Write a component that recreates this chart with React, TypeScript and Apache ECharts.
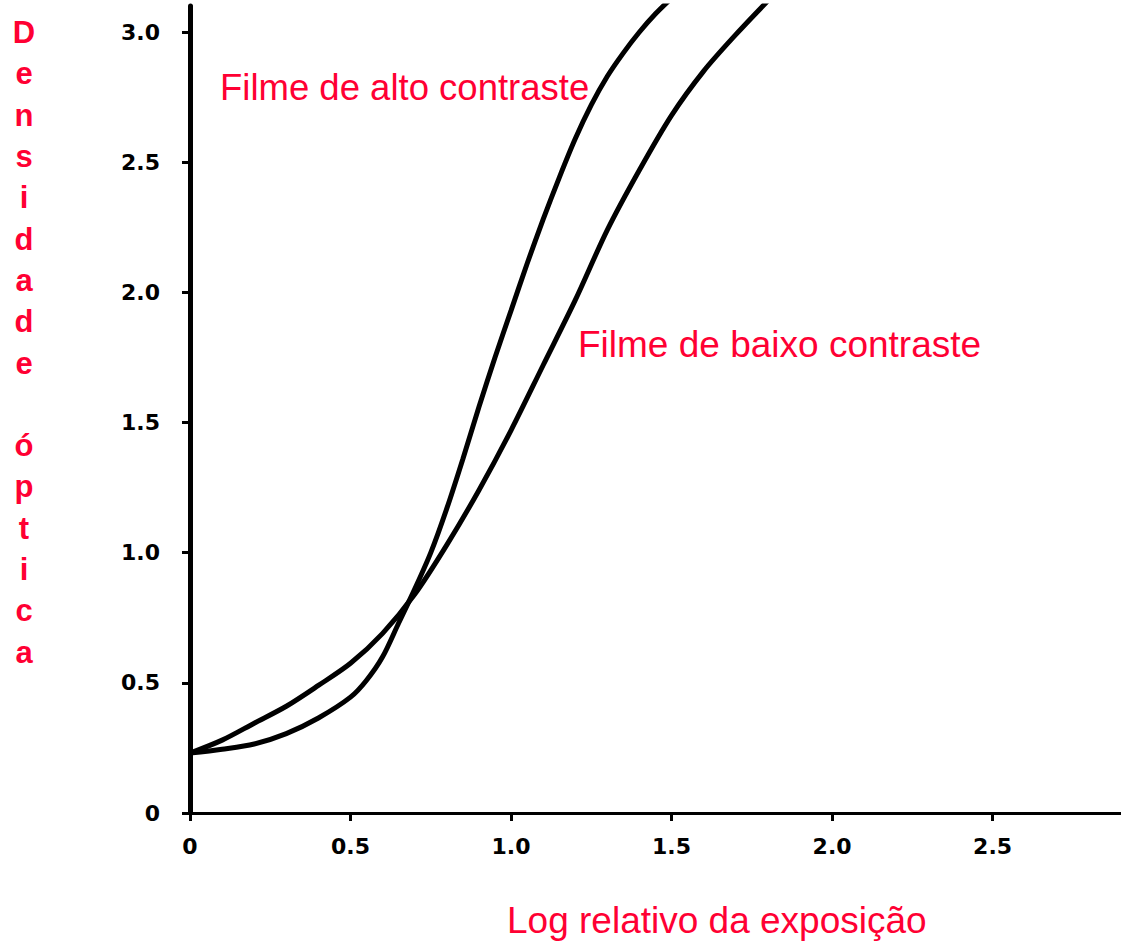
import React, { useEffect, useRef } from "react";
import * as echarts from "echarts";

const xTicks = [0, 0.5, 1.0, 1.5, 2.0, 2.5];
const yTicks = [0, 0.5, 1.0, 1.5, 2.0, 2.5, 3.0];

const highContrastX = [0, 0.1, 0.2, 0.3, 0.4, 0.5, 0.55, 0.6, 0.65, 0.7, 0.75, 0.8, 0.85, 0.9, 0.95, 1.0, 1.05, 1.1, 1.15, 1.2, 1.25, 1.3, 1.35, 1.4, 1.45, 1.5];
const highContrastY = [0.23, 0.245, 0.265, 0.305, 0.365, 0.445, 0.51, 0.6, 0.73, 0.86, 1.0, 1.17, 1.36, 1.56, 1.75, 1.93, 2.11, 2.28, 2.44, 2.59, 2.72, 2.83, 2.92, 3.0, 3.07, 3.13];

const lowContrastX = [0, 0.1, 0.2, 0.3, 0.4, 0.5, 0.6, 0.7, 0.8, 0.9, 1.0, 1.1, 1.2, 1.3, 1.4, 1.5, 1.6, 1.7, 1.8];
const lowContrastY = [0.23, 0.28, 0.345, 0.41, 0.49, 0.575, 0.69, 0.84, 1.03, 1.24, 1.47, 1.72, 1.97, 2.24, 2.47, 2.68, 2.85, 2.99, 3.12];

const labelHigh = "Filme de alto contraste";
const labelLow = "Filme de baixo contraste";
const xTitle = "Log relativo da exposição";
const yTitle = "Densidade óptica";

const RED = "#ff0033";
const tickFmt = (v: number) => (v === 0 ? "0" : v.toFixed(1));

export default function App() {
  const ref = useRef<HTMLDivElement>(null);
  useEffect(() => {
    if (!ref.current) return;
    const chart = echarts.init(ref.current, undefined, { renderer: "svg" });
    const stacked = yTitle.split("").join("\n");
    const lineSeries = (name: string, xs: number[], ys: number[]) => ({
      name,
      type: "line",
      data: xs.map((x, i) => [x, ys[i]]),
      smooth: 0.3,
      showSymbol: false,
      clip: true,
      lineStyle: { color: "#000", width: 5 },
    });
    chart.setOption({
      animation: false,
      backgroundColor: "#ffffff",
      grid: { left: 190, right: 0, top: 6, bottom: 130, containLabel: false },
      xAxis: {
        type: "value",
        min: 0,
        max: 2.9,
        splitLine: { show: false },
        axisLine: { show: true, lineStyle: { color: "#000", width: 3 } },
        axisTick: { show: true, length: 8, lineStyle: { color: "#000", width: 3 }, customValues: xTicks },
        axisLabel: {
          customValues: xTicks,
          formatter: tickFmt,
          color: "#000",
          fontFamily: "DejaVu Sans",
          fontWeight: "bold",
          fontSize: 22,
          margin: 22,
        },
      },
      yAxis: {
        type: "value",
        min: 0,
        max: 3.1,
        splitLine: { show: false },
        axisLine: { show: true, lineStyle: { color: "#000", width: 5 } },
        axisTick: { show: true, length: 8, lineStyle: { color: "#000", width: 3 }, customValues: yTicks },
        axisLabel: {
          customValues: yTicks,
          formatter: tickFmt,
          color: "#000",
          fontFamily: "DejaVu Sans",
          fontWeight: "bold",
          fontSize: 22,
          margin: 30,
        },
      },
      series: [
        lineSeries(labelHigh, highContrastX, highContrastY),
        lineSeries(labelLow, lowContrastX, lowContrastY),
      ],
      graphic: [
        {
          type: "text",
          x: 220,
          y: 87,
          style: {
            text: labelHigh,
            fill: RED,
            fontFamily: "Liberation Sans",
            fontSize: 36.5,
            verticalAlign: "middle",
          },
        },
        {
          type: "text",
          x: 578,
          y: 344,
          style: {
            text: labelLow,
            fill: RED,
            fontFamily: "Liberation Sans",
            fontSize: 37,
            verticalAlign: "middle",
          },
        },
        {
          type: "text",
          x: 507,
          y: 920,
          style: {
            text: xTitle,
            fill: RED,
            fontFamily: "Liberation Sans",
            fontSize: 37,
            verticalAlign: "middle",
          },
        },
        {
          type: "text",
          x: 24,
          y: 12,
          style: {
            text: stacked,
            fill: RED,
            fontFamily: "Liberation Sans",
            fontWeight: "bold",
            fontSize: 31,
            lineHeight: 41.3,
            align: "center",
            verticalAlign: "top",
          },
        },
      ],
    });
    return () => chart.dispose();
  }, []);
  return (
    <div
      ref={ref}
      style={{ position: "fixed", left: 0, top: 0, width: 1121, height: 943, background: "#fff" }}
    />
  );
}
